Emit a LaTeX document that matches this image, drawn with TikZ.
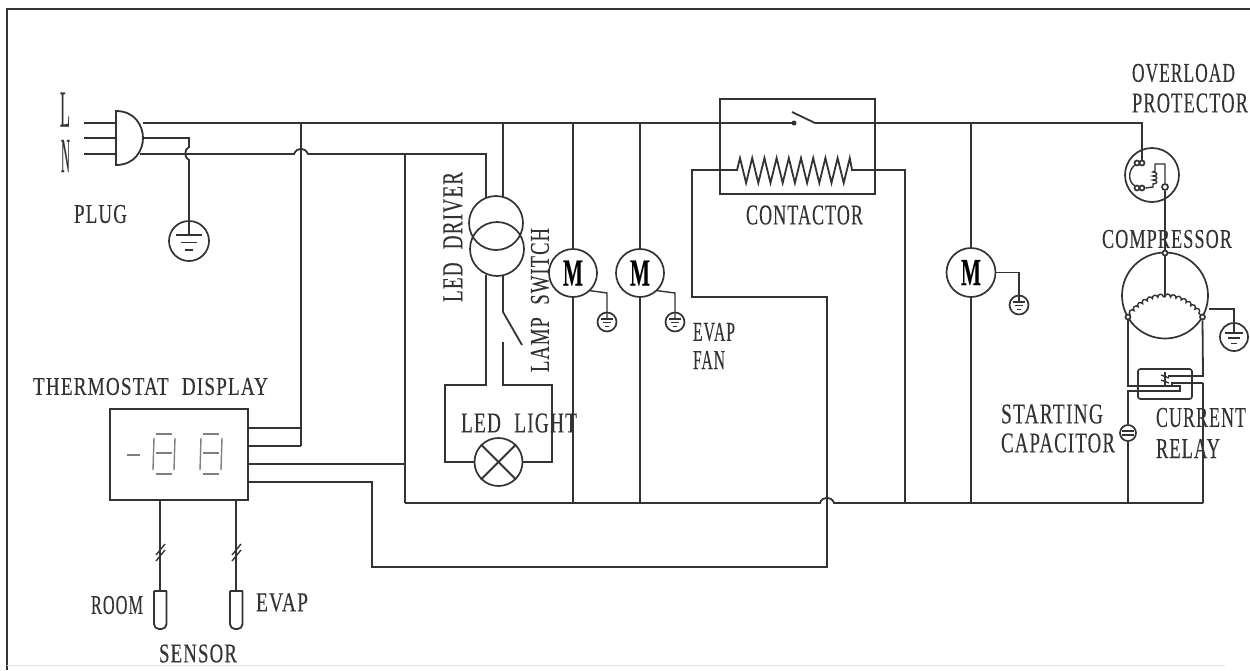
\documentclass[tikz,border=0pt]{standalone}
\usepackage{fontspec}
\usepackage{graphicx}
\setmainfont[LetterSpace=6,WordSpace=2.2,FakeBold=0.25]{Liberation Serif}
\usetikzlibrary{decorations.pathmorphing,calc}
\definecolor{ink}{HTML}{333333}
\definecolor{seg}{HTML}{808080}
\tikzset{
 x=1pt,y=-1pt,
 wire/.style={draw=ink,line width=1.8pt,line join=miter},
 fine/.style={draw=ink,line width=1.4pt},
 sym/.style={circle,draw=ink,line width=1.7pt,inner sep=0pt,minimum size=2*#1 pt},
 lbl/.style={inner sep=0pt,text=ink},
 segm/.style={draw=seg,line width=1.4pt},
 coil/.style={decorate,decoration={bumps,segment length=#1,amplitude=3pt}},
}
% name, x, y, width, height, text, rotation
\newcommand{\lab}[7]{\node[lbl,rotate=#7] (#1) at (#2,#3) {\resizebox{#4pt}{#5pt}{#6}};}
% name, x, y, radius
\newcommand{\gnd}[4]{%
 \node[sym=#4] (#1) at (#2,#3) {};
 \draw[fine] ($(#1.center)+(-0.65*#4,-0.3*#4)$) -- ($(#1.center)+(0.65*#4,-0.3*#4)$);
 \draw[fine] ($(#1.center)+(-0.42*#4,0.08*#4)$) -- ($(#1.center)+(0.42*#4,0.08*#4)$);
 \draw[fine] ($(#1.center)+(-0.2*#4,0.45*#4)$) -- ($(#1.center)+(0.2*#4,0.45*#4)$);
}
\newcommand{\digit}[2]{%
 \draw[segm] (#1+3,434) -- (#1+19,434);
 \draw[segm] (#1+3,453) -- (#1+19,453);
 \draw[segm] (#1+3,474) -- (#1+19,474);
 \draw[segm] (#1+1,438) -- (#1,470);
 \draw[segm] (#1+22,438) -- (#1+21,470);
}
\begin{document}
\begin{tikzpicture}
\useasboundingbox (0,0) rectangle (1250,670);
% frame
\coordinate (fa) at (7,670); \coordinate (fb) at (7,9); \coordinate (fc) at (1250,9);
\draw[draw=ink,line width=2pt] (fa) -- (fb) -- (fc);
\draw[draw=ink!15,line width=1pt] (7,665) -- (1225,665);

% --- symbols ---
% plug
\draw[wire] (116,111) -- (116,165) .. controls (135,165) and (143,150) .. (143,138) .. controls (143,126) and (135,111) .. (116,111) -- cycle;
\coordinate (plugL) at (116,123); \coordinate (plugE) at (116,138); \coordinate (plugN) at (116,154);
\coordinate (prL) at (84,123); \coordinate (prE) at (84,138); \coordinate (prN) at (84,154);
\draw[wire] (prL) -- (plugL); \draw[wire] (prE) -- (plugE); \draw[wire] (prN) -- (plugN);
\gnd{gplug}{189}{241}{20}
% transformer
\node[sym=27] (trA) at (496,223) {};
\node[sym=27] (trB) at (497,249) {};
% lamp
\node[sym=24] (lamp) at (498.5,462) {};
\draw[wire] (lamp.north west) -- (lamp.south east);
\draw[wire] (lamp.north east) -- (lamp.south west);
% motors
\node[sym=24,font=\bfseries] (m1) at (573,273) {\resizebox{20pt}{25pt}{M}};
\node[sym=24,font=\bfseries] (m2) at (640,273) {\resizebox{20pt}{25pt}{M}};
\node[sym=24.5,font=\bfseries] (m3) at (971,272.5) {\resizebox{20pt}{25pt}{M}};
\gnd{g1}{607}{322}{9.5}
\gnd{g2}{675}{322}{9.5}
\gnd{g3}{1019}{305}{9.5}
% compressor
\node[sym=43] (comp) at (1165,295.5) {};
\node[sym=2.5,fill=white] (cT) at (1165,253) {};
\node[sym=2.5,fill=white] (cL) at (1128,317) {};
\node[sym=2.5,fill=white] (cR) at (1202.5,317) {};
\coordinate (cC) at (1165,297);
\gnd{gcomp}{1234}{337}{14}
% protector
\node[sym=27] (prot) at (1152,175) {};
\node[sym=2.5] (p1) at (1137,163) {}; \node[sym=2.5] (p2) at (1142,163) {};
\node[sym=2.5] (p3) at (1137,188) {}; \node[sym=2.5] (p4) at (1142,188) {};
\node[sym=3] (p5) at (1165,187) {};
% capacitor
\node[sym=8] (cap) at (1128,433) {};
% thermostat
\node[draw=ink,line width=1.8pt,minimum width=138pt,minimum height=91pt,inner sep=0pt] (th) at (179,454.5) {};
\draw[segm] (127,455) -- (140,455);
\digit{153}{1}
\digit{200}{2}
% sensors
\draw[wire,rounded corners=5pt] (154,591) -- (154,629) -- (166.5,629) -- (166.5,591);
\draw[wire] (154,591) -- (166.5,591);
\draw[wire,rounded corners=5pt] (230,591) -- (230,629) -- (242.5,629) -- (242.5,591);
\draw[wire] (230,591) -- (242.5,591);
\coordinate (s1) at (160,591); \coordinate (s2) at (236,591);
% contactor box
\node[draw=ink,line width=1.7pt,minimum width=155pt,minimum height=95pt,inner sep=0pt] (cont) at (797.5,146.5) {};
% relay box
\node[draw=ink,line width=1.7pt,rounded corners=2.5pt,minimum width=54pt,minimum height=30pt,inner sep=0pt] (relay) at (1165,384) {};

% --- L line ---
\draw[wire] (143,123) -- (794,123);
\node[circle,fill=ink,inner sep=0pt,minimum size=5pt] (swdot) at (794,123) {};
\coordinate (swB) at (792,112); \coordinate (swE) at (815,123);
\draw[wire] (swB) -- (swE);
\draw[wire] (swE) -- (1142,123) -- (p2.north);
% earth
\draw[wire] (143,138) -- (189,138) -- (189,147) .. controls (184,149) and (184,158) .. (189,160) -- (gplug.center |- 0,235);
% N line with bump
\draw[wire] (140,154) -- (294,154) .. controls (297,147) and (305,147) .. (308,154) -- (486,154) -- (486,197);
\draw[wire] (405,154) -- (405,503);
% vertical to thermostat
\draw[wire] (301,123) -- (301,446);
\draw[wire] (th.east |- 0,428) -- (301,428);
\draw[wire] (th.east |- 0,446) -- (301,446);
\draw[wire] (th.east |- 0,464) -- (405,464);
% contactor coil return
\draw[wire] (th.east |- 0,482) -- (372,482) -- (372,567) -- (827,567) -- (827,297) -- (692,297) -- (692,170) -- (737,170)
 -- (740,158) -- (746.1,183) -- (752.2,158) -- (758.3,183) -- (764.4,158) -- (770.5,183) -- (776.6,158) -- (782.7,183)
 -- (788.8,158) -- (794.9,183) -- (801,158) -- (807.1,183) -- (813.2,158) -- (819.3,183) -- (825.4,158) -- (831.5,183)
 -- (837.6,158) -- (843.7,183) -- (849.8,158) -- (852,170) -- (905,170) -- (905,503);
% bottom bus
\draw[wire] (405,503) -- (820,503) .. controls (822,496) and (832,496) .. (834,503) -- (1203,503);
% LED driver
\draw[wire] (503,123) -- (503,197);
\draw[wire] (486,275) -- (486,385) -- (445,385) -- (445,462) -- (lamp.west);
\draw[wire] (503,275) -- (503,312) -- (522,345);
\draw[wire] (503,342) -- (503,385) -- (552,385) -- (552,462) -- (lamp.east);
% motors
\draw[wire] (573,123) -- (m1.north);
\draw[wire] (m1.south) -- (573,503);
\draw[wire] (640,123) -- (m2.north);
\draw[wire] (m2.south) -- (640,503);
\draw[wire] (971,123) -- (m3.north);
\draw[wire] (m3.south) -- (971,503);
\draw[fine] (m1.south east) ++(-1,0) -- (607,293) -- (607,319);
\draw[fine] (m2.south east) ++(-1,0) -- (675,293) -- (675,319);
\draw[fine] (m3.east) -- (1019,272.5) -- (1019,302);
% protector internals
\draw[fine] (p1.south west) .. controls (1128,170) and (1128,182) .. (p3.north west);
\draw[fine] (p4.east) -- (1153,187) -- (1153,184)
 .. controls (1158,184) and (1158,180) .. (1153,180)
 .. controls (1158,180) and (1158,176) .. (1153,176)
 .. controls (1158,176) and (1158,172) .. (1153,172)
 -- (1155,171) -- (1155,164) -- (1165,164) -- (p5.north);
\draw[wire] (p5.south) -- (cT.north);
% compressor internals
\draw[wire] (cT.south) -- (cC);
\draw[fine,coil=11pt] (cL.north east) .. controls (1141,303) and (1152,297) .. (cC);
\draw[fine,coil=11pt] (cC) .. controls (1178,297) and (1189,303) .. (cR.north west);
\draw[fine] (comp.east |- 0,309) -- (1234,309) -- (1234,333);
% relay wiring
\draw[wire] (cR.south) -- (1203,376) -- (1168,376);
\draw[wire] (1203,383) -- (1203,503);
\draw[wire] (1203,383) -- (1172,383) -- (1172,386);
\draw[wire] (cL.south) -- (1128,386) -- (1160,386);
\draw[wire] (cap.south) -- (1128,503);
\draw[wire] (cap.north) -- (1128,391) -- (1180,391) -- (1180,386) -- (1160,386);
\draw[fine] (1165,372) -- (1165,386);
\draw[fine] (1161,375) -- (1169,378);
\draw[fine] (1161,380) -- (1169,383);
% capacitor plates
\draw[fine] (1122,431) -- (1134,431);
\draw[fine] (1122,435) -- (1134,435);
% sensors
\draw[wire] (th.south -| s1) -- (s1);
\draw[wire] (th.south -| s2) -- (s2);
\draw[fine] (156,555) -- (165,544);
\draw[fine] (156,561) -- (165,550);
\draw[fine] (232,555) -- (241,544);
\draw[fine] (232,561) -- (241,550);
% --- labels ---
\lab{tL}{65}{109.5}{10}{34}{L}{0}
\lab{tN}{65.5}{156}{9}{32}{N}{0}
\lab{tPlug}{100.5}{214}{53}{18}{PLUG}{0}
\lab{tDrv}{453}{237}{130}{19}{LED DRIVER}{90}
\lab{tSw}{540}{300}{144}{18}{LAMP SWITCH}{90}
\lab{tLight}{519}{423}{116}{19}{LED LIGHT}{0}
\lab{tThermo}{150.5}{386.5}{235}{17}{THERMOSTAT DISPLAY}{0}
\lab{tCont}{804.5}{215}{117}{19}{CONTACTOR}{0}
\lab{tEvapF}{714}{332}{42}{18}{EVAP}{0}
\lab{tFan}{709}{360}{32}{18}{FAN}{0}
\lab{tOver}{1183.5}{73}{103}{18}{OVERLOAD}{0}
\lab{tProt}{1190}{103}{116}{19}{PROTECTOR}{0}
\lab{tComp}{1167}{239}{130}{18}{COMPRESSOR}{0}
\lab{tStart}{1052}{414}{102}{19}{STARTING}{0}
\lab{tCapac}{1058}{443}{114}{19}{CAPACITOR}{0}
\lab{tCurr}{1201}{417.5}{90}{19}{CURRENT}{0}
\lab{tRelay}{1188}{448.5}{64}{19}{RELAY}{0}
\lab{tRoom}{117}{605}{52}{18}{ROOM}{0}
\lab{tEvap}{282}{602.5}{52}{18}{EVAP}{0}
\lab{tSensor}{198}{653.5}{78}{18}{SENSOR}{0}
\end{tikzpicture}
\end{document}
